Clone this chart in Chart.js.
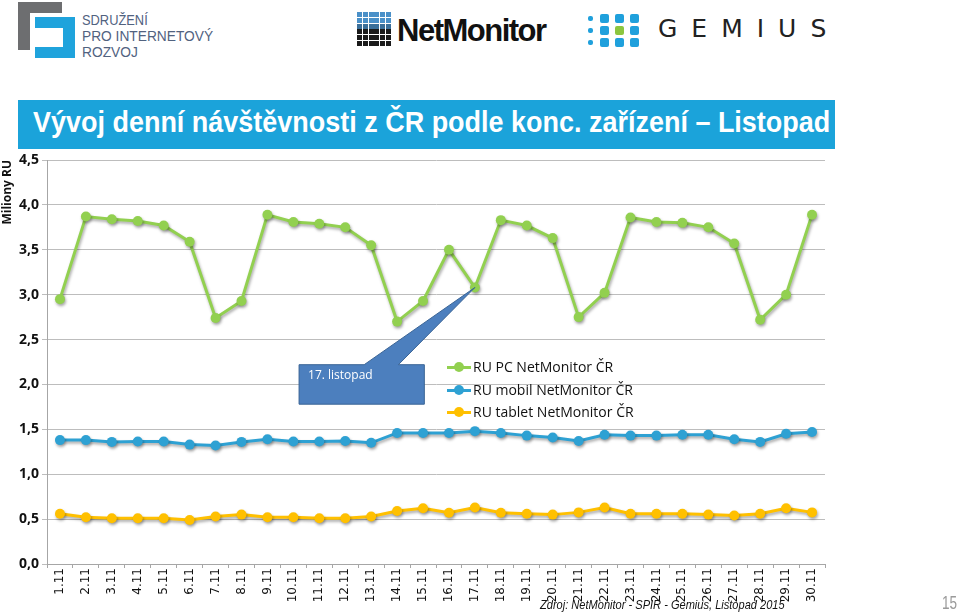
<!DOCTYPE html>
<html lang="cs">
<head>
    <meta charset="UTF-8">
    <title>Vývoj denní návštěvnosti</title>
    <script src="https://cdn.jsdelivr.net/npm/chart.js"></script>
    <style>
        body { margin: 0; background: #fff; }
        #page { position: relative; width: 960px; height: 613px; overflow: hidden; font-family: "Liberation Sans", Arial, sans-serif; }
        #page div, #page span { position: absolute; }
        .spir { left: 82px; color: #51627f; font-family: "Liberation Sans", sans-serif; font-size: 15px; line-height: 15px; white-space: nowrap; }
        .nm { width: 5px; height: 5px; }
        .gd { border-radius: 2px; background: #1fa0dc; }
        #banner { left: 18px; top: 100px; width: 817px; height: 49px; background: #1ba3da; }
        #title { left: 33px; top: 106px; color: #fff; font-family: "Liberation Sans", sans-serif; font-weight: bold; font-size: 29px; white-space: nowrap; }
        .leg { left: 447px; height: 20px; width: 260px; }
        .leg i { position: absolute; left: 0; top: 9px; width: 24px; height: 3px; }
        .leg b { position: absolute; left: 7px; top: 5px; width: 10px; height: 10px; border-radius: 50%; }
        .leg span { left: 26px; top: 0; font-family: "Open Sans", sans-serif; font-size: 14px; line-height: 20px; color: #111; white-space: nowrap; }
        #src { left: 540px; top: 597px; font-family: "Liberation Sans", sans-serif; font-style: italic; font-size: 13px; color: #111; white-space: nowrap; }
        #pg { left: 942px; top: 592px; font-family: "Liberation Sans", sans-serif; font-size: 19px; color: #9a9a9a; }
        #wrap { left: 0; top: 0; width: 960px; height: 613px; }
    </style>
</head>
<body>
<div id="page">
    <!-- SPIR logo -->
    <div style="left:18px;top:2px;width:44px;height:11px;background:#6d6e70"></div>
    <div style="left:18px;top:2px;width:12px;height:48px;background:#6d6e70"></div>
    <div style="left:35px;top:17px;width:40px;height:11px;background:#1fa3dc"></div>
    <div style="left:63px;top:17px;width:12px;height:41px;background:#1fa3dc"></div>
    <div style="left:35px;top:47px;width:40px;height:11px;background:#1fa3dc"></div>
    <div class="spir" id="sp1" style="top:12px">SDRUŽENÍ</div>
    <div class="spir" id="sp2" style="top:28px">PRO INTERNETOVÝ</div>
    <div class="spir" id="sp3" style="top:44px">ROZVOJ</div>

    <!-- NetMonitor logo -->
    <div id="nmgrid" style="left:357px;top:12px;width:34px;height:34px"></div>
    <div style="left:397px;top:13px;font-family:'Liberation Sans',Arial,sans-serif;font-weight:bold;font-size:31px;letter-spacing:-1.5px;color:#111">NetMonitor</div>

    <!-- Gemius logo -->
    <div id="gmgrid" style="left:586px;top:14px;width:54px;height:34px"></div>
    <div style="left:658px;top:14px;font-family:'DejaVu Sans',sans-serif;font-size:25px;letter-spacing:14px;color:#222">GEMIUS</div>

    <div id="banner"></div>
    <div id="title">Vývoj denní návštěvnosti z ČR podle konc. zařízení – Listopad</div>

    <div id="wrap"><canvas id="denniChart" width="960" height="613"></canvas></div>

    <div class="leg" style="top:357px"><i style="background:#92d050"></i><b style="background:#92d050"></b><span>RU PC NetMonitor ČR</span></div>
    <div class="leg" style="top:380px"><i style="background:#2ea1d3"></i><b style="background:#2ea1d3"></b><span>RU mobil NetMonitor ČR</span></div>
    <div class="leg" style="top:402px"><i style="background:#ffc000"></i><b style="background:#ffc000"></b><span>RU tablet NetMonitor ČR</span></div>

    <div id="src">Zdroj: NetMonitor - SPIR - Gemius, Listopad 2015</div>
    <div id="pg">15</div>
</div>
<script>
    // dny v listopadu
    const dny = ['1.11','2.11','3.11','4.11','5.11','6.11','7.11','8.11','9.11','10.11',
        '11.11','12.11','13.11','14.11','15.11','16.11','17.11','18.11','19.11','20.11',
        '21.11','22.11','23.11','24.11','25.11','26.11','27.11','28.11','29.11','30.11'];

    // miliony RU
    const ruPC = [2.95, 3.87, 3.84, 3.82, 3.77, 3.59, 2.74, 2.93, 3.89, 3.81,
        3.79, 3.75, 3.55, 2.70, 2.93, 3.50, 3.08, 3.83, 3.77, 3.63,
        2.75, 3.02, 3.86, 3.81, 3.80, 3.75, 3.57, 2.72, 3.00, 3.89];
    const ruMobil = [1.38, 1.38, 1.36, 1.365, 1.365, 1.33, 1.32, 1.36, 1.39, 1.365,
        1.365, 1.37, 1.35, 1.46, 1.46, 1.46, 1.48, 1.46, 1.43, 1.41,
        1.37, 1.44, 1.43, 1.43, 1.44, 1.44, 1.39, 1.36, 1.45, 1.47];
    const ruTablet = [0.56, 0.52, 0.51, 0.51, 0.51, 0.49, 0.53, 0.55, 0.52, 0.52,
        0.51, 0.51, 0.53, 0.59, 0.62, 0.57, 0.63, 0.57, 0.56, 0.55,
        0.575, 0.63, 0.56, 0.56, 0.56, 0.55, 0.54, 0.56, 0.62, 0.575];

    const yTicks = [0, 0.5, 1, 1.5, 2, 2.5, 3, 3.5, 4, 4.5];

    // zúžené písmo (Arial Narrow není k dispozici)
    function zuzit(id, sirka) {
        const el = document.getElementById(id);
        el.style.transformOrigin = 'left top';
        el.style.transform = 'scaleX(' + (sirka / el.offsetWidth) + ')';
    }
    zuzit('title', 797);
    zuzit('src', 245);
    zuzit('sp1', 66);
    zuzit('sp2', 131);
    zuzit('sp3', 56);
    zuzit('pg', 15);

    // logo mřížky
    const nmgrid = document.getElementById('nmgrid');
    for (let r = 0; r < 6; r++) {
        for (let c = 0; c < 6; c++) {
            const d = document.createElement('div');
            d.className = 'nm';
            d.style.left = (c * 5.8) + 'px';
            d.style.top = (r * 5.8) + 'px';
            d.style.background = r < 2 ? '#4a90c8' : (r < 3 ? '#3a6f9a' : '#1a1a1a');
            nmgrid.appendChild(d);
        }
    }
    const gmgrid = document.getElementById('gmgrid');
    for (let r = 0; r < 3; r++) {
        for (let c = 0; c < 4; c++) {
            const d = document.createElement('div');
            d.className = 'gd';
            const s = c === 0 ? 5 : 9;
            d.style.width = s + 'px';
            d.style.height = s + 'px';
            d.style.left = (c === 0 ? 2 : c * 15 - 1) + 'px';
            d.style.top = (r * 12 + (c === 0 ? 2 : 0)) + 'px';
            if (r === 1 && c === 2) d.style.background = '#8cc63f';
            gmgrid.appendChild(d);
        }
    }

    // stín pod čarami
    const stinPlugin = {
        id: 'stin',
        beforeDatasetsDraw(chart) {
            const ctx = chart.ctx;
            ctx.save();
            ctx.shadowColor = 'rgba(0,0,0,0.35)';
            ctx.shadowBlur = 3;
            ctx.shadowOffsetX = 1;
            ctx.shadowOffsetY = 2;
        },
        afterDatasetsDraw(chart) {
            chart.ctx.restore();
        }
    };

    // bublina "17. listopad"
    const bublinaPlugin = {
        id: 'bublina',
        afterDatasetsDraw(chart) {
            const ctx = chart.ctx;
            const xs = chart.scales.x, ys = chart.scales.y;
            const tipX = xs.getPixelForValue(16);
            const tipY = ys.getPixelForValue(ruPC[16]);
            const l = xs.getPixelForValue(9.22), r = xs.getPixelForValue(14.05);
            const t = ys.getPixelForValue(2.22), b = ys.getPixelForValue(1.78);
            const b1 = xs.getPixelForValue(11.73), b2 = xs.getPixelForValue(13.05);
            ctx.save();
            ctx.beginPath();
            ctx.moveTo(l, t);
            ctx.lineTo(b1, t);
            ctx.lineTo(tipX, tipY);
            ctx.lineTo(b2, t);
            ctx.lineTo(r, t);
            ctx.lineTo(r, b);
            ctx.lineTo(l, b);
            ctx.closePath();
            ctx.fillStyle = '#4c7fbe';
            ctx.fill();
            ctx.strokeStyle = '#3a6495';
            ctx.lineWidth = 1;
            ctx.stroke();
            ctx.fillStyle = '#fff';
            ctx.font = '12px "Open Sans", sans-serif';
            ctx.textBaseline = 'middle';
            ctx.fillText('17. listopad', l + 9, t + 11);
            ctx.restore();
        }
    };

    const ctx = document.getElementById('denniChart').getContext('2d');
    new Chart(ctx, {
        type: 'line',
        data: {
            labels: dny,
            datasets: [
                {
                    label: 'RU PC NetMonitor ČR',
                    data: ruPC,
                    borderColor: '#92d050',
                    backgroundColor: '#92d050',
                    borderWidth: 3,
                    pointRadius: 5,
                    pointBorderWidth: 0
                },
                {
                    label: 'RU mobil NetMonitor ČR',
                    data: ruMobil,
                    borderColor: '#2ea1d3',
                    backgroundColor: '#2ea1d3',
                    borderWidth: 3,
                    pointRadius: 5,
                    pointBorderWidth: 0
                },
                {
                    label: 'RU tablet NetMonitor ČR',
                    data: ruTablet,
                    borderColor: '#ffc000',
                    backgroundColor: '#ffc000',
                    borderWidth: 3,
                    pointRadius: 5,
                    pointBorderWidth: 0
                }
            ]
        },
        options: {
            responsive: false,
            animation: false,
            layout: { padding: { top: 160, right: 135, bottom: 0, left: 0 } },
            plugins: {
                legend: { display: false },
                tooltip: { enabled: false }
            },
            scales: {
                x: {
                    offset: true,
                    grid: { display: true, drawOnChartArea: false, offset: true, tickLength: 4, color: '#a6a6a6' },
                    border: { color: '#a6a6a6' },
                    ticks: {
                        minRotation: 90,
                        maxRotation: 90,
                        autoSkip: false,
                        padding: 0,
                        color: '#111',
                        font: { family: 'DejaVu Sans', size: 12 }
                    },
                    afterFit(scale) { scale.height = 49; }
                },
                y: {
                    min: 0,
                    max: 4.5,
                    afterBuildTicks(scale) { scale.ticks = yTicks.map(v => ({ value: v })); },
                    grid: { color: '#bdbdbd', tickLength: 5 },
                    border: { color: '#a6a6a6' },
                    ticks: {
                        padding: 3,
                        color: '#111',
                        font: { family: 'Open Sans', size: 14, weight: 'bold' },
                        callback: v => v.toFixed(1).replace('.', ',')
                    },
                    title: {
                        display: true,
                        text: 'Miliony RU',
                        align: 'end',
                        padding: 0,
                        color: '#111',
                        font: { family: 'Open Sans', size: 12, weight: 'bold' }
                    },
                    afterFit(scale) { scale.width = 47; }
                }
            }
        },
        plugins: [stinPlugin, bublinaPlugin]
    });
</script>
</body>
</html>
